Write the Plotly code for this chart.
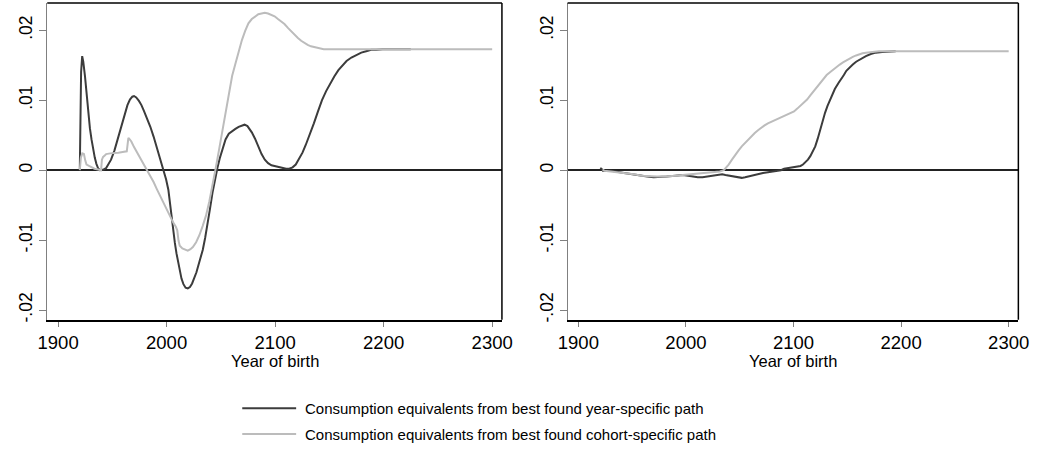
import plotly.graph_objects as go

# ---- data: left panel ----
left_year_years = [1920.0, 1920.5, 1921.2, 1922.2, 1923.2, 1924.8, 1926.3, 1927.8, 1929.3, 1930.8,
                   1932.3, 1933.8, 1935.3, 1936.8, 1938.5, 1940.0, 1942.0, 1944.3, 1946.5, 1948.8,
                   1951.9, 1954.9, 1957.2, 1959.4, 1961.7, 1963.9, 1966.2, 1968.4, 1970.0, 1972.0,
                   1974.5, 1976.8, 1979.0, 1982.0, 1985.0, 1988.0, 1991.0, 1994.0, 1997.0, 1999.5,
                   2001.6, 2003.1, 2004.6, 2006.1, 2007.6, 2009.1, 2010.7, 2012.2, 2013.7, 2015.5,
                   2017.5, 2019.5, 2021.5, 2023.5, 2025.5, 2027.5, 2029.5, 2031.5, 2033.3, 2035.5,
                   2037.8, 2040.0, 2042.3, 2044.5, 2046.8, 2049.0, 2051.4, 2054.3, 2057.3, 2060.4,
                   2063.4, 2066.4, 2069.5, 2071.8, 2074.5, 2076.5, 2078.5, 2081.5, 2084.5, 2087.5,
                   2090.5, 2093.5, 2096.6, 2099.5, 2102.6, 2106.0, 2110.1, 2113.0, 2116.1, 2119.0,
                   2122.2, 2125.2, 2128.2, 2131.9, 2135.7, 2139.5, 2143.2, 2147.0, 2150.8, 2154.5,
                   2158.3, 2162.0, 2165.8, 2170.3, 2174.9, 2179.4, 2183.9, 2188.5, 2193.0, 2199.0,
                   2225.0]
left_year_values = [0.0, 0.0080, 0.0140, 0.0163, 0.0155, 0.0134, 0.0108, 0.0082, 0.0060, 0.0044,
                    0.0030, 0.0018, 0.0009, 0.0003, 0.0000, 0.0000, 0.0001, 0.0003, 0.0008, 0.0015,
                    0.0028, 0.0044, 0.0056, 0.0067, 0.0080, 0.0093, 0.0101, 0.0105, 0.0106, 0.0104,
                    0.0099, 0.0093, 0.0085, 0.0074, 0.0062, 0.0048, 0.0033, 0.0017, 0.0001, -0.0013,
                    -0.0028, -0.0048, -0.0070, -0.0088, -0.0104, -0.0119, -0.0132, -0.0145, -0.0155, -0.0163,
                    -0.0168, -0.0169, -0.0167, -0.0162, -0.0155, -0.0146, -0.0135, -0.0124, -0.0114, -0.0097,
                    -0.0078, -0.0055, -0.0032, -0.0013, 0.0003, 0.0017, 0.0030, 0.0044, 0.0052, 0.0056,
                    0.0059, 0.0062, 0.0064, 0.0065, 0.0063, 0.0059, 0.0054, 0.0045, 0.0034, 0.0023,
                    0.0015, 0.0010, 0.0007, 0.0006, 0.0005, 0.0003, 0.0002, 0.0002, 0.0004, 0.0008,
                    0.0016, 0.0025, 0.0036, 0.0050, 0.0067, 0.0084, 0.0100, 0.0113, 0.0124, 0.0134,
                    0.0143, 0.0150, 0.0156, 0.0161, 0.0165, 0.0168, 0.0170, 0.0172, 0.0172, 0.0173,
                    0.0173]

left_cohort_years = [1920.0, 1921.0, 1922.3, 1923.8, 1925.0, 1926.2, 1928.5, 1930.8, 1933.5, 1936.8,
                     1939.6, 1940.4, 1941.5, 1943.0, 1944.3, 1948.0, 1951.9, 1955.6, 1959.4, 1963.3,
                     1964.3, 1964.8, 1966.0, 1967.5, 1970.0, 1973.0, 1976.0, 1979.0, 1982.0, 1985.0,
                     1988.0, 1991.0, 1994.0, 1997.1, 2000.0, 2003.1, 2006.1, 2008.5, 2009.8, 2011.0,
                     2012.1, 2014.5, 2017.0, 2019.5, 2022.0, 2024.2, 2027.2, 2030.2, 2033.2, 2036.3,
                     2039.3, 2042.3, 2045.3, 2048.3, 2051.3, 2054.3, 2057.3, 2060.4, 2063.4, 2066.4,
                     2069.4, 2072.4, 2075.4, 2078.5, 2081.5, 2084.5, 2087.5, 2090.5, 2093.5, 2096.5,
                     2099.5, 2102.6, 2105.6, 2108.6, 2112.0, 2115.0, 2117.6, 2121.0, 2124.0, 2126.7,
                     2130.0, 2133.0, 2135.7, 2140.0, 2144.8, 2150.0, 2300.0]
left_cohort_values = [0.0, 0.0018, 0.0024, 0.0023, 0.0014, 0.0008, 0.0006, 0.0004, 0.0002, 0.0001,
                      0.0, 0.0015, 0.0019, 0.0021, 0.0023, 0.0024, 0.0024, 0.0025, 0.0026, 0.0027,
                      0.0040, 0.0046, 0.0044, 0.0041, 0.0033, 0.0025, 0.0017, 0.0008, 0.0000, -0.0008,
                      -0.0017, -0.0027, -0.0037, -0.0046, -0.0056, -0.0065, -0.0075, -0.0081, -0.0086, -0.0101,
                      -0.0108, -0.0112, -0.0114, -0.0115, -0.0113, -0.0110, -0.0103, -0.0093, -0.0080, -0.0065,
                      -0.0045, -0.0023, 0.0003, 0.0029, 0.0055, 0.0083, 0.0110, 0.0135, 0.0152, 0.0170,
                      0.0186, 0.0199, 0.0210, 0.0216, 0.0220, 0.0223, 0.0224, 0.0225, 0.0224, 0.0222,
                      0.0220, 0.0216, 0.0213, 0.0209, 0.0203, 0.0198, 0.0194, 0.0189, 0.0185, 0.0182,
                      0.0179, 0.0177, 0.0176, 0.0174, 0.0173, 0.0173, 0.0173]

# ---- data: right panel ----
right_year_years = [1920.3, 1921.5, 1922.8, 1930.4, 1942.5, 1950.0, 1957.7, 1964.0, 1970.0, 1976.0,
                    1982.0, 1990.0, 1997.2, 2002.0, 2006.3, 2011.0, 2015.4, 2020.0, 2024.5, 2029.0,
                    2033.7, 2036.7, 2039.7, 2042.7, 2045.8, 2049.0, 2051.9, 2055.0, 2057.9, 2062.5,
                    2067.0, 2071.6, 2076.2, 2080.7, 2085.3, 2088.3, 2091.3, 2094.4, 2097.4, 2102.0,
                    2106.5, 2108.8, 2111.1, 2113.4, 2115.6, 2117.9, 2120.2, 2122.5, 2124.8, 2127.0,
                    2129.3, 2131.6, 2133.9, 2136.1, 2138.4, 2141.5, 2144.5, 2146.8, 2149.1, 2152.1,
                    2155.1, 2158.2, 2161.2, 2164.2, 2167.3, 2171.8, 2176.4, 2182.4, 2188.5, 2195.0]
right_year_values = [0.0003, 0.0002, -0.0001, -0.0001, -0.0004, -0.0006, -0.0007, -0.0009, -0.0010, -0.0010,
                     -0.0009, -0.0008, -0.0007, -0.0008, -0.0009, -0.0010, -0.0010, -0.0009, -0.0007, -0.0006,
                     -0.0006, -0.0007, -0.0008, -0.0009, -0.0010, -0.0011, -0.0011, -0.0010, -0.0009, -0.0007,
                     -0.0005, -0.0004, -0.0003, -0.0002, -0.0001, 0.0000, 0.0002, 0.0003, 0.0004, 0.0005,
                     0.0006, 0.0008, 0.0011, 0.0015, 0.0020, 0.0026, 0.0034, 0.0045, 0.0058, 0.0070,
                     0.0082, 0.0092, 0.0101, 0.0109, 0.0116, 0.0124, 0.0130, 0.0136, 0.0142, 0.0147,
                     0.0151, 0.0155, 0.0158, 0.0161, 0.0163, 0.0166, 0.0168, 0.0169, 0.0170, 0.0170]

right_cohort_years = [1922.5, 1924.3, 1930.0, 1936.4, 1944.0, 1951.6, 1959.0, 1966.8, 1973.0, 1979.0,
                      1985.0, 1991.1, 1997.0, 2003.3, 2009.0, 2015.4, 2021.5, 2027.6, 2031.5, 2035.2,
                      2037.5, 2039.7, 2042.8, 2045.8, 2048.8, 2051.9, 2054.9, 2057.9, 2061.0, 2064.0,
                      2067.0, 2070.1, 2073.1, 2076.2, 2079.2, 2082.2, 2085.3, 2088.3, 2091.3, 2094.4,
                      2097.4, 2100.5, 2103.5, 2106.5, 2109.6, 2112.6, 2115.6, 2118.7, 2121.7, 2124.8,
                      2127.8, 2130.8, 2133.9, 2136.9, 2140.0, 2143.0, 2146.0, 2149.1, 2152.1, 2155.1,
                      2158.2, 2161.2, 2164.2, 2167.3, 2170.3, 2173.3, 2179.4, 2190.0, 2300.0]
right_cohort_values = [0.0001, -0.0001, -0.0002, -0.0003, -0.0005, -0.0006, -0.0008, -0.0009, -0.0009, -0.0009,
                       -0.0009, -0.0008, -0.0007, -0.0006, -0.0006, -0.0005, -0.0004, -0.0003, -0.0002, 0.0000,
                       0.0004, 0.0008, 0.0015, 0.0022, 0.0028, 0.0034, 0.0039, 0.0044, 0.0049, 0.0053,
                       0.0057, 0.0061, 0.0064, 0.0067, 0.0069, 0.0071, 0.0073, 0.0075, 0.0077, 0.0080,
                       0.0082, 0.0084, 0.0088, 0.0092, 0.0096, 0.0101, 0.0107, 0.0113, 0.0119, 0.0125,
                       0.0131, 0.0136, 0.0140, 0.0144, 0.0148, 0.0151, 0.0154, 0.0157, 0.0160, 0.0162,
                       0.0164, 0.0166, 0.0167, 0.0168, 0.0169, 0.0169, 0.0170, 0.0170, 0.0170]

x_tick_values = [1900, 2000, 2100, 2200, 2300]
x_tick_labels = ["1900", "2000", "2100", "2200", "2300"]
y_tick_values = [-0.02, -0.01, 0.0, 0.01, 0.02]
y_tick_labels = ["-.02", "-.01", "0", ".01", ".02"]
x_title = "Year of birth"
series_names = ["Consumption equivalents from best found year-specific path",
                "Consumption equivalents from best found cohort-specific path"]

# ---- styling ----
W, H = 1047, 451
FONT = "Liberation Sans, Arial, sans-serif"
DARK = "#3c3c3c"
LIGHT = "#bcbcbc"
series_colors = [DARK, LIGHT]


def px_x(p):
    return p / W


def px_y(p):
    return 1 - p / H


fig = go.Figure()

panels = [
    ("x", "y", left_year_years, left_year_values, left_cohort_years, left_cohort_values),
    ("x2", "y2", right_year_years, right_year_values, right_cohort_years, right_cohort_values),
]
for xa, ya, yx, yv, cx, cv in panels:
    fig.add_trace(go.Scatter(x=yx, y=yv, mode="lines", xaxis=xa, yaxis=ya,
                             line=dict(color=DARK, width=2), showlegend=False,
                             name=series_names[0]))
    fig.add_trace(go.Scatter(x=cx, y=cv, mode="lines", xaxis=xa, yaxis=ya,
                             line=dict(color=LIGHT, width=2), showlegend=False,
                             name=series_names[1]))

x_domains = [[px_x(38), px_x(502)], [px_x(569), px_x(1029)]]
y_domain = [px_y(322), px_y(3)]

xaxis_common = dict(range=[1890, 2309], tickvals=x_tick_values, ticktext=x_tick_labels,
                    ticks="outside", ticklen=5, tickwidth=1, tickcolor="#808080",
                    showline=True, linecolor="#000000", linewidth=2, showgrid=False,
                    zeroline=False, tickfont=dict(family=FONT, size=18.5, color="#000000"))
yaxis_common = dict(range=[-0.0214, 0.0239], tickvals=y_tick_values, ticktext=y_tick_labels,
                    ticks="outside", ticklen=7, tickwidth=1, tickcolor="#808080",
                    showline=True, linecolor="#808080", linewidth=1, showgrid=False,
                    zeroline=True, zerolinecolor="#222222", zerolinewidth=1.5,
                    tickangle=-90,
                    tickfont=dict(family=FONT, size=17.5, color="#000000"))

fig.update_layout(
    width=W, height=H,
    margin=dict(l=0, r=0, t=0, b=0),
    paper_bgcolor="white", plot_bgcolor="white",
    font=dict(family=FONT, color="#000000"),
    showlegend=False,
    xaxis=dict(domain=x_domains[0], anchor="y", **xaxis_common),
    yaxis=dict(domain=y_domain, anchor="x", **yaxis_common),
    xaxis2=dict(domain=x_domains[1], anchor="y2", **xaxis_common),
    yaxis2=dict(domain=y_domain, anchor="x2", **yaxis_common),
)

shapes = []
annotations = []
for i, (xa, ya) in enumerate([("x", "y"), ("x2", "y2")]):
    # top and right frame edges
    shapes.append(dict(type="line", xref=f"{xa} domain", yref=f"{ya} domain",
                       x0=0, x1=1, y0=1, y1=1, line=dict(color="#000000", width=1.5)))
    shapes.append(dict(type="line", xref=f"{xa} domain", yref=f"{ya} domain",
                       x0=1, x1=1, y0=0, y1=1, line=dict(color="#000000", width=1.5)))
    annotations.append(dict(text=x_title, xref="paper", yref="paper",
                            x=sum(x_domains[i]) / 2, y=px_y(363),
                            xanchor="center", yanchor="middle", showarrow=False,
                            borderpad=0,
                            font=dict(family=FONT, size=16.5, color="#000000")))

# legend below the panels
legend_rows = [411, 437]
for name, color, row in zip(series_names, series_colors, legend_rows):
    shapes.append(dict(type="line", xref="paper", yref="paper",
                       x0=px_x(237), x1=px_x(292), y0=px_y(row), y1=px_y(row),
                       line=dict(color=color, width=2)))
    annotations.append(dict(text=name, xref="paper", yref="paper",
                            x=px_x(299), y=px_y(row), xanchor="left", yanchor="middle",
                            showarrow=False,
                            font=dict(family=FONT, size=15, color="#000000")))

fig.update_layout(shapes=shapes, annotations=annotations)

fig.write_html("out.html")
